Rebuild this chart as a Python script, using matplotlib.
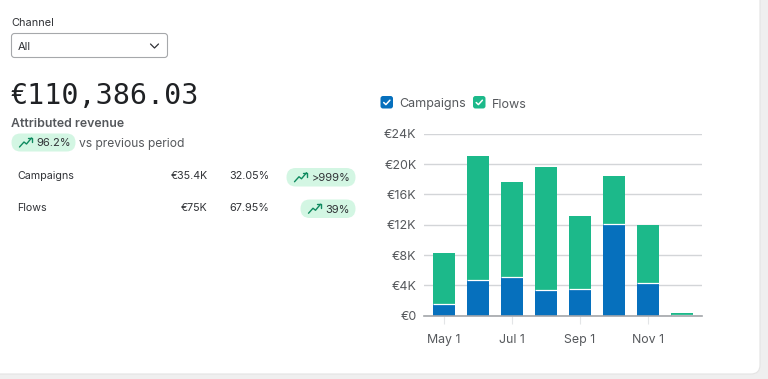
import matplotlib
matplotlib.use("Agg")
import matplotlib.pyplot as plt
from matplotlib.patches import FancyBboxPatch

plt.rcParams["font.family"] = ["Inter", "DejaVu Sans"]

W, H = 768, 379

months = ["May 1", "Jun 1", "Jul 1", "Aug 1", "Sep 1", "Oct 1", "Nov 1", "Dec 1"]
campaigns = [1.5, 4.65, 5.05, 3.35, 3.55, 12.15, 4.35, 0.1]
flows = [6.8, 16.35, 12.55, 16.3, 9.6, 6.3, 7.65, 0.3]
y_ticks = [0, 4, 8, 12, 16, 20, 24]
y_labels = ["€0", "€4K", "€8K", "€12K", "€16K", "€20K", "€24K"]
x_tick_pos = [0, 2, 4, 6]
x_tick_labels = ["May 1", "Jul 1", "Sep 1", "Nov 1"]

BLUE = "#0670bd"
GREEN = "#1cb98a"
TEXT = "#303236"
MUTED = "#55585c"
PILL = "#d3f6e3"
ICON = "#0f8a5f"
BAR_WIDTH = 0.67

fig = plt.figure(figsize=(W / 100, H / 100), dpi=100, facecolor="#efefef")

bg = fig.add_axes([0, 0, 1, 1])
bg.set_xlim(0, W)
bg.set_ylim(H, 0)
bg.axis("off")


def box(x, y, w, h, radius, **kw):
    bg.add_patch(FancyBboxPatch((x + radius, y + radius), w - 2 * radius, h - 2 * radius,
                                boxstyle=f"round,pad={radius},rounding_size={radius}", **kw))


def label(x, y, s, size=9.2, color=TEXT, ha="left", **kw):
    # y is the visual middle of the line, text sits on a shared baseline
    bg.text(x, y + size * 0.5, s, fontsize=size, color=color, ha=ha, va="baseline", **kw)


def trend_icon(x, y):
    # small arrow used inside the green pills
    bg.plot([x, x + 4.5, x + 7, x + 12], [y + 4.5, y - 0.5, y + 1.5, y - 4.5],
            color=ICON, lw=1.0, solid_capstyle="round", solid_joinstyle="round")
    bg.plot([x + 8, x + 12, x + 12], [y - 4.5, y - 4.5, y - 0.5],
            color=ICON, lw=1.0, solid_capstyle="round", solid_joinstyle="round")


def pill(x, y, w, h, s, text_x):
    box(x, y, w, h, h / 2, fc=PILL, ec="none")
    trend_icon(x + 8, y + h / 2)
    label(text_x, y + h / 2, s, size=8.0, color=TEXT)


def checkbox(x, y, color):
    box(x, y, 12.5, 12.5, 2.5, fc=color, ec="none")
    bg.plot([x + 3.2, x + 5.4, x + 9.4], [y + 6.5, y + 8.6, y + 4.2],
            color="white", lw=1.1, solid_capstyle="round")


# white card with rounded lower right corner
box(-20, -20, 780, 394, 9, fc="white", ec="#e4e4e4", lw=0.8)

# channel selector
label(11, 22, "Channel", size=7.9)
box(11.5, 33.5, 156, 24, 3, fc="white", ec="#a6a8ab", lw=0.8)
label(18, 45.5, "All", size=8.0)
bg.plot([150.5, 154.5, 158.5], [44, 48, 44], color=TEXT, lw=0.9,
        solid_capstyle="round", solid_joinstyle="round")

# headline number
bg.text(11, 96, "€110,386.03", fontsize=20.4, color="#1f2124",
        family="DejaVu Sans Mono", ha="left", va="center")
label(11, 122.5, "Attributed revenue", size=8.9, color=MUTED, fontweight="semibold")
pill(11.5, 133.5, 64, 18, "96.2%", 36)
label(79, 143, "vs previous period", size=8.7, color=MUTED)

# table rows
label(17.5, 175.5, "Campaigns", size=7.7)
label(207.5, 175.5, "€35.4K", size=7.7, ha="right")
label(269.5, 175.5, "32.05%", size=7.8, ha="right")
pill(286.5, 168, 69, 18.5, ">999%", 311.5)
label(17.5, 207, "Flows", size=7.7)
label(207.5, 207, "€75K", size=7.7, ha="right")
label(269.5, 207, "67.95%", size=7.8, ha="right")
pill(300.5, 199.5, 55, 18.5, "39%", 325.5)

# legend
checkbox(380.5, 96, BLUE)
label(399, 103, "Campaigns", size=9.0, color=MUTED)
checkbox(473, 96, GREEN)
label(491.5, 103, "Flows", size=9.0, color=MUTED)

# bar chart
ax = fig.add_axes([423.5 / W, 1 - 315.7 / H, 278.5 / W, 182 / H])
ax.patch.set_alpha(0)
x = list(range(len(months)))
ax.bar(x, flows, width=BAR_WIDTH, bottom=campaigns, color=GREEN, edgecolor="none", zorder=3)
ax.bar(x, campaigns, width=BAR_WIDTH, color=BLUE, edgecolor="none", zorder=3)
# thin white gap between the two stacked segments
ax.hlines(campaigns, [i - BAR_WIDTH / 2 for i in x], [i + BAR_WIDTH / 2 for i in x],
          color="white", lw=0.9, zorder=3.5)
ax.set_xlim(-0.603, 7.59)
ax.set_ylim(0, 24)
ax.set_yticks(y_ticks, y_labels)
ax.set_xticks(x_tick_pos, x_tick_labels)
ax.grid(axis="y", color="#d3d5d8", lw=1, zorder=1)
ax.set_axisbelow(True)
for side in ["top", "right", "left"]:
    ax.spines[side].set_visible(False)
ax.spines["bottom"].set_color("#a3a6aa")
ax.spines["bottom"].set_linewidth(1.2)
ax.spines["bottom"].set_zorder(4)
ax.tick_params(axis="y", length=0, pad=5, labelsize=9.0, labelcolor=MUTED)
ax.tick_params(axis="x", length=6, width=0.8, color="#e3e5e7", pad=7.5, labelsize=8.9,
               labelcolor=MUTED)

fig.savefig("out.png", dpi=100, facecolor=fig.get_facecolor())
